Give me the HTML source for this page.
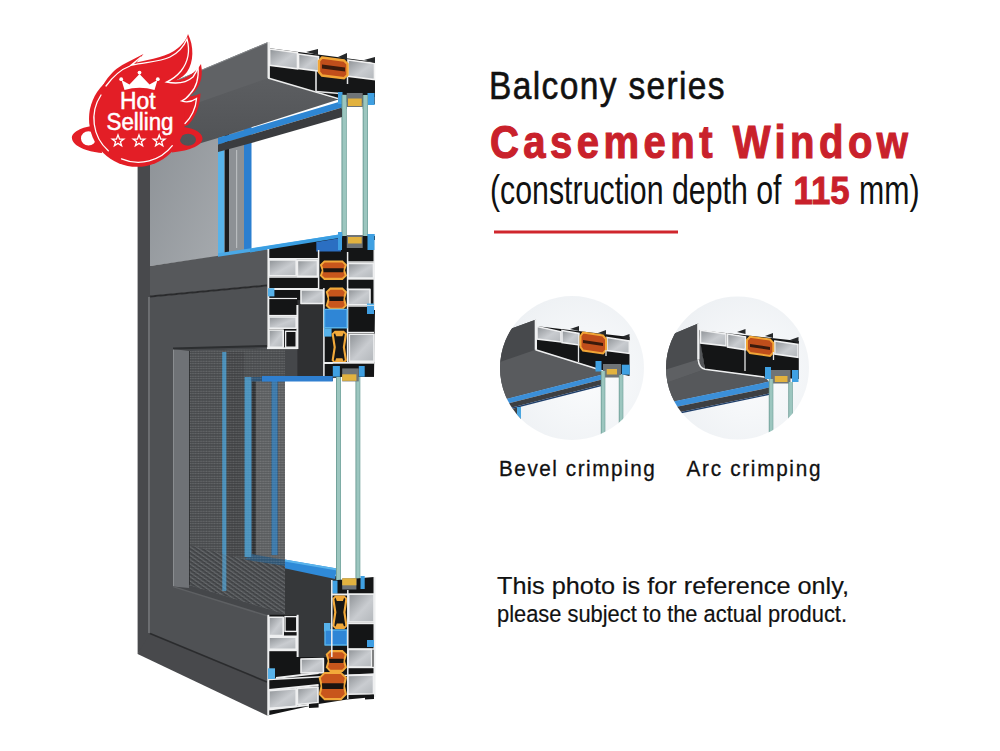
<!DOCTYPE html>
<html><head><meta charset="utf-8">
<style>
html,body{margin:0;padding:0;background:#fff;}
body{width:1000px;height:751px;overflow:hidden;position:relative;}
svg{position:absolute;left:0;top:0;}
text{font-family:"Liberation Sans",sans-serif;}
</style></head>
<body>
<svg width="1000" height="751" viewBox="0 0 1000 751">
<defs>
  <linearGradient id="gPanel" x1="0" y1="0" x2="1" y2="1">
    <stop offset="0" stop-color="#8a8f94"/><stop offset="1" stop-color="#a6aaae"/>
  </linearGradient>
  <linearGradient id="gHeadLow" x1="0" y1="0" x2="0" y2="1">
    <stop offset="0" stop-color="#5c5e61"/><stop offset="1" stop-color="#4e5053"/>
  </linearGradient>
  <linearGradient id="gCham" x1="0" y1="0" x2="1" y2="1">
    <stop offset="0" stop-color="#8e9296"/><stop offset="0.55" stop-color="#c9ccd0"/><stop offset="1" stop-color="#b3b7bb"/>
  </linearGradient>
  <linearGradient id="gGlass" x1="0" y1="0" x2="1" y2="0">
    <stop offset="0" stop-color="#5f918a"/><stop offset="0.3" stop-color="#9cc6bf"/><stop offset="0.75" stop-color="#9cc6bf"/><stop offset="1" stop-color="#6a9c95"/>
  </linearGradient>
  <pattern id="mesh" width="2.7" height="2.5" patternUnits="userSpaceOnUse">
    <rect width="2.7" height="2.5" fill="#15171a" fill-opacity="0.55"/>
    <rect x="0.3" y="0.6" width="2" height="1.2" fill="#ffffff" fill-opacity="0.22"/>
  </pattern>
  <pattern id="meshD" width="3.5" height="3.5" patternUnits="userSpaceOnUse" patternTransform="rotate(-55)">
    <rect width="3.5" height="3.5" fill="#3a3c3f"/>
    <rect width="1.3" height="3.5" fill="#707376"/>
  </pattern>
  <clipPath id="c1"><circle cx="572" cy="368" r="72"/></clipPath>
  <clipPath id="c2"><circle cx="737.5" cy="368" r="71.5"/></clipPath>
</defs>
<!-- ===== WINDOW ===== -->
<g id="window">
  <!-- upper reveal panel -->
  <polygon points="150,100 222,90 222,256 150,266" fill="url(#gPanel)"/>
  <!-- upper opening strips -->
  <rect x="218" y="120" width="6.5" height="140" fill="#57b3ea"/>
  <rect x="224.5" y="120" width="4.5" height="140" fill="#1b1c1e"/>
  <rect x="229" y="120" width="15" height="140" fill="#8d9195"/>
  <rect x="236" y="150" width="1.2" height="98" fill="#b9bcbf"/>
  <rect x="244" y="120" width="7.5" height="140" fill="#2b7fd0"/>
  <!-- upper glass panes -->
  <rect x="341.5" y="95" width="5.3" height="153" fill="url(#gGlass)"/>
  <rect x="362.7" y="95" width="5.3" height="153" fill="url(#gGlass)"/>
  <rect x="346.8" y="92" width="15.9" height="15" fill="#6f7477"/>
  <rect x="348" y="98.5" width="13.7" height="7.5" fill="#e2b23f"/>
  <rect x="346.8" y="235" width="15.9" height="13" fill="#6f7477"/>
  <rect x="348" y="237" width="13.7" height="6.5" fill="#e2b23f"/>
  <rect x="338" y="90" width="4" height="14" fill="#3fa0e2"/>
  <rect x="367.5" y="92" width="7" height="13" fill="#3fa0e2"/>
  <rect x="338" y="232" width="4" height="15" fill="#3fa0e2"/>
  <rect x="367.5" y="234" width="7" height="14" fill="#3fa0e2"/>
  <!-- head box top face -->
  <polygon points="137,97 268,42 268,80 137,127" fill="#606265"/>
  <line x1="160" y1="87.5" x2="268" y2="42.5" stroke="#85888b" stroke-width="1"/>
  <!-- head box lower face -->
  <polygon points="137,124 268,78 340,99 218,138 137,162" fill="url(#gHeadLow)"/>
  <!-- blue band + dark band under head -->
  <polygon points="218,138 342,101 342,107.5 218,144.5" fill="#2e86d3"/>
  <polygon points="218,144.5 342,107.5 342,117 251.5,143 218,152" fill="#3a3c3f"/>
  <!-- head cross-section -->
  <polygon points="268,48 375,62 375,104 342,101 268,78" fill="#151617"/>
  <rect x="267.5" y="42" width="2.4" height="36" fill="#eceded"/>
  <line x1="268" y1="78" x2="341" y2="99.5" stroke="#eceded" stroke-width="1.8"/>
  <polygon points="269.6,49 297.5,52.8 297.5,68.8 269.6,65.4" fill="url(#gCham)" stroke="#f2f2f2" stroke-width="1.6"/>
  <polygon points="298.5,54 318.5,56.8 318.5,71 298.5,68.6" fill="url(#gCham)" stroke="#f2f2f2" stroke-width="1.6"/>
  <polygon points="348,60 374.5,63.5 374.5,79.5 348,76.2" fill="url(#gCham)" stroke="#f2f2f2" stroke-width="1.6"/>
  <polygon points="306,52 318,49 318,55" fill="#26282a"/>
  <polygon points="338,57 347,53 347,60" fill="#26282a"/>
  <polygon points="364,60 375,57 375,63" fill="#26282a"/>
  <polygon points="322,57.5 344,60.5 347.5,64 347.5,75 344,78.3 322,75.5 319,72 319,61" fill="#c04e1b" stroke="#f2a536" stroke-width="2.4"/>
  <polygon points="322,64.5 345,67.5 345,71.5 322,68.5" fill="#3a1a0c"/>
  <line x1="316" y1="71" x2="316" y2="91.5" stroke="#e5e6e7" stroke-width="1.6"/>
  <line x1="347.5" y1="77" x2="347.5" y2="84" stroke="#e5e6e7" stroke-width="1.5"/>
  <line x1="316" y1="91.5" x2="340" y2="93.5" stroke="#e5e6e7" stroke-width="1.4"/>
  <polygon points="340,94 375,97 375,104 342,102" fill="#4b4e51"/>
  <rect x="338" y="92" width="4.5" height="12" fill="#3fa0e2"/>
  <rect x="367.5" y="93" width="7" height="12" fill="#3fa0e2"/>
  <rect x="346.8" y="93" width="15.9" height="14" fill="#6f7477"/>
  <rect x="348" y="98.5" width="13.7" height="7.5" fill="#e2b23f"/>
  <rect x="341.5" y="95" width="5.3" height="14" fill="url(#gGlass)"/>
  <rect x="362.7" y="95" width="5.3" height="14" fill="url(#gGlass)"/>

  <!-- left jamb front face -->
  <polygon points="137.6,120 150,118 150,640 137.6,654" fill="#48494c"/>

  <!-- transom face -->
  <polygon points="150,266 267,248.5 267,285 150,296" fill="#56585b"/>
  <polygon points="218,253.3 342.2,234 342.2,237.5 218,256.8" fill="#4aa8e6"/>
  <!-- lower sash front face -->
  <polygon points="150,297 267,286 267,682 150,633.5" fill="#4f5154"/>
  <line x1="150" y1="296.5" x2="267" y2="285.5" stroke="#2a2b2d" stroke-width="2"/>
  <line x1="149" y1="297" x2="149" y2="633" stroke="#85878a" stroke-width="1.2"/>
  <!-- frame bottom rail face -->
  <polygon points="137.6,654 150,633.5 267,682 267,715.4" fill="#48494c"/>
  <line x1="150" y1="633.5" x2="267" y2="682" stroke="#2a2b2d" stroke-width="1.6"/>

  <!-- lower opening : dark backing right of mesh -->
  <polygon points="173,349 336,344 336,660 267,616 173,586.4" fill="#45474a"/>
  <!-- white glass area -->
  <polygon points="285,380 336,378 336,576 285,566" fill="#ffffff"/>
  <!-- blue band bottom of glass opening -->
  <polygon points="285,566 336,577 336,657 297.4,657 297.4,614.8 285,614" fill="#36383a"/>
  <polygon points="251.8,554 337,568.5 335,579 244.3,559.6" fill="#2f8ad8"/>
  <polygon points="251.8,554 337,568.5 337,570.5 251.8,556" fill="#5ab4ec"/>
  <!-- left reveal -->
  <polygon points="173,349 189,351 189,588 173,586.4" fill="#6f7276"/>
  <line x1="173.5" y1="349" x2="173.5" y2="586" stroke="#8a8d90" stroke-width="1"/>
  <!-- mesh -->
  <polygon points="189,351 285,348 285,614 189,585" fill="#7a7d80"/>
  <polygon points="251.8,381 285,381 285,566 251.8,556" fill="#a3a6a9"/>
  <rect x="222" y="352" width="4.6" height="239" fill="#4a9ed6"/>
  <rect x="226.6" y="352" width="17.7" height="205" fill="#6a6b6e"/>
  <rect x="244.3" y="377" width="7.5" height="180" fill="#4aa6de"/>
  <rect x="271.3" y="381" width="6.6" height="174" fill="#3a8ad0"/>
  <rect x="251.8" y="381" width="4" height="176" fill="#3a3c3f"/>
  <polygon points="244.3,377 285,377 285,381.5 251.8,381.5" fill="#3a8ad0"/>
  <polygon points="251.8,554 285,560 285,566 244.3,559.6" fill="#3f94d8"/>
  <polygon points="189,351 285,348 285,614 189,585" fill="url(#mesh)"/>
  <polygon points="189,545 244.3,559.6 285,566 285,614 189,585" fill="url(#meshD)" opacity="0.6"/>
  <rect x="222.3" y="352" width="4" height="239" fill="#5ab0e4" opacity="0.6"/>
  <rect x="244.8" y="377" width="6.5" height="180" fill="#5ab4ea" opacity="0.6"/>
  <rect x="271.8" y="381" width="5.6" height="174" fill="#4a9ee0" opacity="0.5"/>
  <!-- top reveal line -->
  <line x1="173" y1="348.5" x2="267" y2="346" stroke="#2c2e30" stroke-width="2"/>
  <line x1="189.5" y1="351" x2="189.5" y2="585" stroke="#2a2c2e" stroke-width="1" opacity="0.8"/>
  <!-- lower rail top edge -->
  <line x1="173" y1="586.6" x2="267" y2="615.8" stroke="#5e6063" stroke-width="1.5"/>

  <!-- lower glass panes -->
  <rect x="336" y="370" width="5" height="215" fill="url(#gGlass)"/>
  <rect x="355.5" y="370" width="4.8" height="215" fill="url(#gGlass)"/>
<!-- transom cross-section -->
<polygon points="267.0,248.5 342.0,236.0 375.0,236.0 375.0,310.0 374.0,376.7 332.8,376.7 332.8,381.0 324.0,381.0 324.0,305.0 297.4,305.0 297.4,349.0 267.0,349.0" fill="#141516"/>
<polygon points="297.4,300.0 324.5,300.0 324.5,377.0 297.4,377.0" fill="#2f3032"/>
<polygon points="250.0,249.0 342.2,234.0 342.2,237.5 250.0,252.5" fill="#3a9ee2"/>
<rect x="267.3" y="249.0" width="2.0" height="100.0" fill="#eeeff0"/>
<polygon points="316.3,242.0 341.0,238.0 341.0,251.6 316.3,251.6" fill="#2b6fc2"/>
<line x1="269.0" y1="258.8" x2="318.0" y2="258.8" stroke="#eeeff0" stroke-width="1.8"/>
<polygon points="269.0,259.9 296.2,259.9 296.2,275.8 269.0,275.8" fill="url(#gCham)" stroke="#eeeff0" stroke-width="1.6" stroke-linejoin="round"/>
<polygon points="297.4,260.4 317.5,260.4 317.5,276.4 297.4,276.4" fill="url(#gCham)" stroke="#eeeff0" stroke-width="1.6" stroke-linejoin="round"/>
<polygon points="324.1,260.4 342.7,260.4 347.0,264.7 345.0,270.2 347.0,275.7 342.7,280.0 324.1,280.0 319.8,275.7 321.8,270.2 319.8,264.7" fill="#f2a93a"/>
<polygon points="324.6,262.6 342.2,262.6 344.8,265.2 342.8,270.2 344.8,275.2 342.2,277.8 324.6,277.8 322.0,275.2 324.0,270.2 322.0,265.2" fill="#c8561c"/>
<polygon points="323.0,268.2 343.8,268.2 343.3,272.2 323.5,272.2" fill="#1c1410"/>
<polygon points="348.0,263.4 373.5,263.4 373.5,278.1 348.0,278.1" fill="url(#gCham)" stroke="#eeeff0" stroke-width="1.6" stroke-linejoin="round"/>
<line x1="269.0" y1="289.0" x2="318.0" y2="289.0" stroke="#eeeff0" stroke-width="1.8"/>
<rect x="373.5" y="240.0" width="1.5" height="70.0" fill="#eeeff0"/>
<rect x="346.8" y="235.0" width="15.9" height="13.0" fill="#6f7477"/>
<rect x="348.0" y="237.0" width="13.7" height="6.5" fill="#e2b23f"/>
<rect x="338.0" y="232.0" width="4.0" height="18.0" fill="#3fa0e2"/>
<rect x="367.5" y="234.0" width="7.0" height="16.0" fill="#3fa0e2"/>
<line x1="318.6" y1="250.0" x2="318.6" y2="290.0" stroke="#eeeff0" stroke-width="1.5"/>
<line x1="347.6" y1="252.0" x2="347.6" y2="290.0" stroke="#eeeff0" stroke-width="1.5"/>
<line x1="348.0" y1="262.0" x2="374.0" y2="262.0" stroke="#eeeff0" stroke-width="1.4"/>
<line x1="269.0" y1="277.0" x2="318.0" y2="277.0" stroke="#eeeff0" stroke-width="1.5"/>
<line x1="348.0" y1="279.0" x2="374.0" y2="279.0" stroke="#eeeff0" stroke-width="1.4"/>
<rect x="268.0" y="288.2" width="6.4" height="8.2" fill="#57b2ea"/>
<polygon points="301.0,290.0 323.4,290.0 323.4,303.5 301.0,303.5" fill="url(#gCham)" stroke="#eeeff0" stroke-width="1.6" stroke-linejoin="round"/>
<polygon points="330.0,287.5 342.7,287.5 347.0,291.8 345.0,298.8 347.0,305.7 342.7,310.0 330.0,310.0 325.7,305.7 327.7,298.8 325.7,291.8" fill="#f2a93a"/>
<polygon points="330.5,289.7 342.2,289.7 344.8,292.3 342.8,298.8 344.8,305.2 342.2,307.8 330.5,307.8 327.9,305.2 329.9,298.8 327.9,292.3" fill="#c8561c"/>
<polygon points="328.9,296.5 343.8,296.5 343.3,301.0 329.4,301.0" fill="#1c1410"/>
<polygon points="348.0,289.4 370.0,289.4 370.0,304.7 348.0,304.7" fill="url(#gCham)" stroke="#eeeff0" stroke-width="1.6" stroke-linejoin="round"/>
<rect x="367.0" y="303.5" width="7.0" height="6.5" fill="#57b2ea"/>
<line x1="269.0" y1="315.8" x2="297.0" y2="315.8" stroke="#eeeff0" stroke-width="1.8"/>
<polygon points="269.0,317.0 296.2,317.0 296.2,328.3 269.0,328.3" fill="url(#gCham)" stroke="#eeeff0" stroke-width="1.6" stroke-linejoin="round"/>
<polygon points="269.0,330.0 283.2,330.0 283.2,347.2 269.0,347.2" fill="url(#gCham)" stroke="#eeeff0" stroke-width="1.6" stroke-linejoin="round"/>
<rect x="285.6" y="331.3" width="10.6" height="15.9" fill="#141516" stroke="#eeeff0" stroke-width="1.4"/>
<line x1="267.0" y1="348.2" x2="297.4" y2="348.2" stroke="#eeeff0" stroke-width="1.8"/>
<rect x="296.4" y="305.0" width="2.0" height="44.0" fill="#eeeff0"/>
<line x1="323.9" y1="288.0" x2="323.9" y2="377.0" stroke="#eeeff0" stroke-width="1.5"/>
<line x1="347.6" y1="288.0" x2="347.6" y2="364.0" stroke="#eeeff0" stroke-width="1.5"/>
<line x1="348.0" y1="306.0" x2="374.0" y2="306.0" stroke="#eeeff0" stroke-width="1.4"/>
<line x1="348.0" y1="332.5" x2="374.0" y2="332.5" stroke="#eeeff0" stroke-width="1.4"/>
<line x1="269.0" y1="298.5" x2="297.0" y2="298.5" stroke="#eeeff0" stroke-width="1.2"/>
<polygon points="324.5,309.4 347.0,309.4 347.0,327.7 324.5,327.7" fill="#2f86d6" stroke="#57b2ea" stroke-width="1.4" stroke-linejoin="round"/>
<rect x="324.0" y="328.3" width="7.6" height="8.3" fill="#57b2ea"/>
<polygon points="334.7,330.7 343.9,330.7 347.0,333.8 345.0,347.2 347.0,360.6 343.9,363.7 334.7,363.7 331.6,360.6 333.6,347.2 331.6,333.8" fill="#f2a93a"/>
<polygon points="335.2,332.9 343.4,332.9 344.8,334.3 342.8,347.2 344.8,360.1 343.4,361.5 335.2,361.5 333.8,360.1 335.8,347.2 333.8,334.3" fill="#161616"/>
<polygon points="334.7,332.4 343.9,332.4 342.4,336.2 336.2,336.2" fill="#f2a93a"/>
<polygon points="334.7,362.0 343.9,362.0 342.4,358.2 336.2,358.2" fill="#f2a93a"/>
<polygon points="349.3,334.2 374.0,334.2 374.0,361.4 349.3,361.4" fill="url(#gCham)" stroke="#eeeff0" stroke-width="1.6" stroke-linejoin="round"/>
<rect x="367.0" y="306.0" width="7.0" height="8.0" fill="#3f9ee2"/>
<line x1="324.0" y1="363.0" x2="374.0" y2="363.0" stroke="#eeeff0" stroke-width="1.8"/>
<rect x="332.8" y="363.7" width="41.2" height="13.0" fill="#141516"/>
<rect x="332.8" y="366.0" width="7.1" height="10.7" fill="#3fa0e2"/>
<rect x="358.8" y="366.0" width="5.9" height="10.7" fill="#3fa0e2"/>
<rect x="342.2" y="368.4" width="16.6" height="13.0" fill="#6f7477"/>
<rect x="342.2" y="374.3" width="14.2" height="6.5" fill="#e2b23f"/>
<polygon points="262.0,376.0 332.8,376.0 332.8,381.4 262.0,381.4" fill="#2f7fd0"/>
<!-- bottom cross-section -->
<polygon points="267.3,614.8 297.4,614.8 297.4,657.0 331.6,657.0 331.6,580.6 374.0,577.0 374.0,697.0 347.0,699.5 318.6,704.0 267.3,715.5" fill="#141516"/>
<rect x="267.3" y="614.8" width="2.0" height="100.7" fill="#eeeff0"/>
<rect x="373.5" y="577.0" width="2.0" height="120.0" fill="#eeeff0"/>
<rect x="332.2" y="580.6" width="5.3" height="13.0" fill="#3fa0e2"/>
<rect x="342.2" y="578.3" width="14.2" height="11.2" fill="#6f7477"/>
<rect x="342.2" y="578.3" width="14.2" height="7.0" fill="#e2b23f"/>
<rect x="360.5" y="576.0" width="4.2" height="13.0" fill="#3fa0e2"/>
<line x1="332.0" y1="594.5" x2="374.0" y2="594.5" stroke="#eeeff0" stroke-width="1.8"/>
<polygon points="335.3,595.4 344.4,595.4 347.5,598.5 345.5,612.2 347.5,625.9 344.4,629.0 335.3,629.0 332.2,625.9 334.2,612.2 332.2,598.5" fill="#f2a93a"/>
<polygon points="335.8,597.6 343.9,597.6 345.3,599.0 343.3,612.2 345.3,625.4 343.9,626.8 335.8,626.8 334.4,625.4 336.4,612.2 334.4,599.0" fill="#161616"/>
<polygon points="335.3,597.1 344.4,597.1 342.9,601.0 336.8,601.0" fill="#f2a93a"/>
<polygon points="335.3,627.3 344.4,627.3 342.9,623.4 336.8,623.4" fill="#f2a93a"/>
<polygon points="348.7,594.2 374.0,594.2 374.0,622.0 348.7,622.0" fill="url(#gCham)" stroke="#eeeff0" stroke-width="1.6" stroke-linejoin="round"/>
<line x1="348.0" y1="623.3" x2="374.0" y2="623.3" stroke="#eeeff0" stroke-width="1.8"/>
<rect x="324.0" y="623.0" width="6.4" height="8.4" fill="#57b2ea"/>
<polygon points="325.0,630.0 347.0,630.0 347.0,645.0 325.0,645.0" fill="#2f86d6" stroke="#57b2ea" stroke-width="1.4" stroke-linejoin="round"/>
<rect x="367.0" y="640.0" width="7.0" height="7.0" fill="#3f9ee2"/>
<polygon points="330.0,650.0 342.7,650.0 347.0,654.3 345.0,661.0 347.0,667.6 342.7,671.9 330.0,671.9 325.7,667.6 327.7,661.0 325.7,654.3" fill="#f2a93a"/>
<polygon points="330.5,652.2 342.2,652.2 344.8,654.8 342.8,661.0 344.8,667.1 342.2,669.7 330.5,669.7 327.9,667.1 329.9,661.0 327.9,654.8" fill="#c8561c"/>
<polygon points="328.9,658.8 343.8,658.8 343.3,663.1 329.4,663.1" fill="#1c1410"/>
<polygon points="348.0,649.4 371.7,649.4 371.7,667.0 348.0,667.0" fill="url(#gCham)" stroke="#eeeff0" stroke-width="1.6" stroke-linejoin="round"/>
<line x1="331.8" y1="580.0" x2="331.8" y2="657.0" stroke="#eeeff0" stroke-width="1.5"/>
<line x1="347.8" y1="590.0" x2="347.8" y2="699.0" stroke="#eeeff0" stroke-width="1.5"/>
<line x1="348.0" y1="649.0" x2="374.0" y2="649.0" stroke="#eeeff0" stroke-width="1.4"/>
<line x1="348.0" y1="667.5" x2="374.0" y2="667.5" stroke="#eeeff0" stroke-width="1.4"/>
<line x1="269.0" y1="679.5" x2="374.0" y2="674.0" stroke="#eeeff0" stroke-width="1.4"/>
<polygon points="269.0,617.2 283.2,617.2 283.2,635.5 269.0,635.5" fill="url(#gCham)" stroke="#eeeff0" stroke-width="1.6" stroke-linejoin="round"/>
<rect x="285.0" y="616.6" width="11.8" height="14.8" fill="#141516" stroke="#eeeff0" stroke-width="1.4"/>
<line x1="269.0" y1="636.4" x2="297.0" y2="636.4" stroke="#eeeff0" stroke-width="1.8"/>
<polygon points="269.0,637.3 296.2,637.3 296.2,649.4 269.0,649.4" fill="url(#gCham)" stroke="#eeeff0" stroke-width="1.6" stroke-linejoin="round"/>
<line x1="269.0" y1="650.3" x2="297.0" y2="650.3" stroke="#eeeff0" stroke-width="1.8"/>
<rect x="296.6" y="614.8" width="2.0" height="42.2" fill="#eeeff0"/>
<rect x="268.0" y="668.3" width="7.0" height="10.7" fill="#57b2ea"/>
<polygon points="301.0,659.0 323.4,658.6 323.4,672.6 301.0,673.0" fill="url(#gCham)" stroke="#eeeff0" stroke-width="1.6" stroke-linejoin="round"/>
<line x1="276.0" y1="678.0" x2="318.6" y2="673.0" stroke="#eeeff0" stroke-width="1.8"/>
<line x1="269.0" y1="690.0" x2="318.6" y2="685.0" stroke="#eeeff0" stroke-width="1.8"/>
<polygon points="269.0,690.7 296.2,688.8 296.2,706.5 269.0,708.4" fill="url(#gCham)" stroke="#eeeff0" stroke-width="1.6" stroke-linejoin="round"/>
<polygon points="297.4,688.4 318.0,687.0 318.0,702.5 297.4,704.5" fill="url(#gCham)" stroke="#eeeff0" stroke-width="1.6" stroke-linejoin="round"/>
<polygon points="324.3,671.9 341.3,671.9 347.0,677.6 345.0,686.0 347.0,694.5 341.3,700.2 324.3,700.2 318.6,694.5 320.6,686.0 318.6,677.6" fill="#f2a93a"/>
<polygon points="324.8,674.1 340.8,674.1 344.8,678.1 342.8,686.0 344.8,694.0 340.8,698.0 324.8,698.0 320.8,694.0 322.8,686.0 320.8,678.1" fill="#c8561c"/>
<polygon points="321.8,683.2 343.8,683.2 343.3,688.9 322.3,688.9" fill="#1c1410"/>
<polygon points="348.0,675.4 373.5,674.9 373.5,693.8 348.0,694.3" fill="url(#gCham)" stroke="#eeeff0" stroke-width="1.6" stroke-linejoin="round"/>
<line x1="269.0" y1="709.6" x2="318.6" y2="703.7" stroke="#eeeff0" stroke-width="2"/>
<polygon points="309.0,704.0 318.6,703.0 318.6,707.5 309.0,708.0" fill="#141516"/>
<polygon points="365.0,695.5 374.0,694.5 374.0,699.0 365.0,699.5" fill="#141516"/>
</g>
<!-- ===== CIRCLES ===== -->
<defs>
  <radialGradient id="gDisc" cx="0.6" cy="0.55" r="0.6">
    <stop offset="0" stop-color="#fbfcfd"/><stop offset="1" stop-color="#eef1f4"/>
  </radialGradient>
</defs>
<g id="circle1">
  <circle cx="572" cy="368" r="72" fill="url(#gDisc)"/>
  <g clip-path="url(#c1)">
    <polygon points="480,340 535.5,319.8 535.5,349.8 600,370 603,374.2 480,405.7" fill="#515356"/>
    <!-- top face -->
    <polygon points="480,340 535.5,319.8 535.5,350.5 480,369.7" fill="#47494c"/>
    <!-- bevel face -->
    <polygon points="480,369 535.5,349.8 600,370 603,374.2 480,405.7" fill="#595b5e"/>
    <!-- blue band + dark band -->
    <polygon points="480,405.7 603,374.2 603,379.2 480,410.7" fill="#3b8fd8"/>
    <polygon points="480,410.7 603,379.2 603,384.2 480,415.7" fill="#3d3f42"/>
    <polygon points="480,415.7 603,384.2 603,385.7 480,417.2" fill="#1f3f6a"/>
    <polygon points="512,409 521,406.5 521,422 512,424" fill="#3d3f42"/>
    <rect x="517" y="407" width="4" height="14" fill="#4aa6e0"/>
    <!-- section -->
    <polygon points="535.5,326 629.5,337 629.5,376 598.5,369.3 535.5,349.8" fill="#141516"/>
    <rect x="534.7" y="319.8" width="2.3" height="30" fill="#eeeff0"/>
    <line x1="535.5" y1="349.8" x2="599" y2="369.5" stroke="#eeeff0" stroke-width="1.6"/>
    <polygon points="537,326.5 561,331.8 561,342 537,339" fill="url(#gCham)" stroke="#f0f1f2" stroke-width="1.5"/>
    <polygon points="562,330.5 579,333.5 579,345 562,342.5" fill="url(#gCham)" stroke="#f0f1f2" stroke-width="1.5"/>
    <polygon points="607,337.5 629.3,341 629.3,353.5 607,350.5" fill="url(#gCham)" stroke="#f0f1f2" stroke-width="1.5"/>
    <polygon points="570,329 579,326 579,331" fill="#26282a"/>
    <polygon points="598,333 606,330 606,335" fill="#26282a"/>
    <polygon points="621,337 629.5,334 629.5,340" fill="#26282a"/>
    <polygon points="583,332.5 603,335.5 606,339 606,350 603,353.5 583,350.5 580.5,347 580.5,336" fill="#c04e1b" stroke="#f2a536" stroke-width="2"/>
    <polygon points="583,340 603,343 603,346 583,343" fill="#3a1a0c"/>
    <line x1="578.5" y1="344" x2="578.5" y2="362" stroke="#e5e6e7" stroke-width="1.3"/>
    <line x1="606" y1="350" x2="606" y2="356" stroke="#e5e6e7" stroke-width="1.3"/>
    <rect x="603" y="364" width="18" height="13.5" fill="#6f7477"/>
    <rect x="606.7" y="369" width="10.3" height="5.5" fill="#e2b23f"/>
    <rect x="595.5" y="361" width="6" height="10.5" fill="#3fa0e2"/>
    <rect x="621.8" y="364.7" width="8" height="10" fill="#3fa0e2"/>
    <rect x="600.8" y="371" width="4.5" height="80" fill="url(#gGlass)"/>
    <rect x="618.8" y="375" width="4.5" height="80" fill="url(#gGlass)"/>
  </g>
</g>
<g id="circle2">
  <circle cx="737.5" cy="368" r="71.5" fill="url(#gDisc)"/>
  <g clip-path="url(#c2)">
    <polygon points="645,346 698.2,323.5 705,369.3 769,381.6 645,407.5" fill="#535558"/>
    <!-- top face -->
    <polygon points="645,346 698.2,323.5 698.2,360.2 645,376.7" fill="#4a4c4f"/>
    <!-- curved band -->
    <path d="M 645,376 L 698.2,359.5 Q 699,368 705,369.3 L 645,390.7 Z" fill="#5e6063"/>
    <!-- lower face -->
    <polygon points="645,390 705,369.3 765,377.5 769,381.6 645,407.5" fill="#56585b"/>
    <polygon points="645,407.5 769,381.6 769,387.6 645,413.5" fill="#3b8fd8"/>
    <polygon points="645,413.5 769,387.6 769,393.6 645,419.5" fill="#3d3f42"/>
    <polygon points="645,419.5 769,393.6 769,395 645,421" fill="#1f3f6a"/>
    <!-- section -->
    <polygon points="698.2,330 798.8,341 798.8,379 763.5,376.8 705,369.3 Q 699,368 698.2,359.5" fill="#141516"/>
    <rect x="697.2" y="323.5" width="2.3" height="36" fill="#eeeff0"/>
    <path d="M 698.2,359.5 Q 699,368 705,369.3 L 764,377" fill="none" stroke="#eeeff0" stroke-width="1.6"/>
    <polygon points="700.5,330.3 726,334 726,345.8 700.5,343" fill="url(#gCham)" stroke="#f0f1f2" stroke-width="1.5"/>
    <polygon points="727.5,334 745.5,336.8 745.5,349.8 727.5,347" fill="url(#gCham)" stroke="#f0f1f2" stroke-width="1.5"/>
    <polygon points="774.8,341 798,344.5 798,357.3 774.8,354" fill="url(#gCham)" stroke="#f0f1f2" stroke-width="1.5"/>
    <polygon points="737,332 745.5,329 745.5,334" fill="#26282a"/>
    <polygon points="765,336 773,333 773,338" fill="#26282a"/>
    <polygon points="790,340 798.5,337 798.5,343" fill="#26282a"/>
    <polygon points="750,336.8 770,339.5 773.3,343 773.3,352.5 770,356 750,353 747,349.5 747,340" fill="#c04e1b" stroke="#f2a536" stroke-width="2"/>
    <polygon points="750,344 770,347 770,350 750,347" fill="#3a1a0c"/>
    <line x1="745" y1="348" x2="745" y2="371" stroke="#e5e6e7" stroke-width="1.3"/>
    <line x1="773.5" y1="352" x2="773.5" y2="360" stroke="#e5e6e7" stroke-width="1.3"/>
    <rect x="771" y="370" width="19.5" height="13.5" fill="#6f7477"/>
    <rect x="774.8" y="376" width="12.7" height="6" fill="#e2b23f"/>
    <rect x="765" y="367" width="6" height="12" fill="#3fa0e2"/>
    <rect x="792" y="370" width="6.5" height="12" fill="#3fa0e2"/>
    <rect x="768.8" y="379" width="4.5" height="80" fill="url(#gGlass)"/>
    <rect x="788.3" y="382" width="4.5" height="80" fill="url(#gGlass)"/>
  </g>
</g>
<!-- ===== BADGE ===== -->
<g id="badge">
  <!-- ring -->
  <path fill-rule="evenodd" fill="#e31e26" d="M 95,125.5 C 82,127 71,132 72,138.5 C 73,146 86,151.5 102,153 L 100,125 Z M 81,138.4 A 7.5,7.2 0 1,0 96,138.4 A 7.5,7.2 0 1,0 81,138.4 Z M 178,126.5 C 192,127 202.5,132 202.5,138.5 C 202.5,145 191,150.5 172,152.5 L 175,127 Z M 180,139.8 A 8,6 0 1,0 196,139.8 A 8,6 0 1,0 180,139.8 Z"/>
  <!-- flame -->
  <path d="M 98,96 C 106,76 116,68 126,63 L 143.5,54 C 140,58 138,60.5 136.5,62.5 C 151,59 168,57 178,48 C 184,43 187,38 188,34 C 194,46 194,62 187,72 C 183,77 179,79 175.5,80.5 C 187,79 196,72 201,64 C 204,78 199,90 189,96.5 C 194,96 197,95 200.5,93.5 C 200,107 195,118 188,125 L 150,140 Z" fill="#e31e26"/>
  <circle cx="137" cy="118.8" r="48" fill="#e31e26"/>
  <!-- inner white outlines -->
  <g fill="none" stroke="#ffffff" stroke-width="1.3" stroke-linecap="round">
    <path d="M 101,95 A 43,43 0 0,0 108.3,150.8"/>
    <path d="M 121.5,158.8 A 43,43 0 0,0 172.3,145.7"/>
    <path d="M 106,86 C 114,75 122,69 130,66 L 141,57 C 136,61 134,63 132,65 C 145,62 160,62 170,57 C 178,53 184,46 187,39 C 190,50 188,62 181,71 C 176,77 171,80 166.5,82 C 176,84 186,83 193,77 C 196,73 197.5,69 198,66 C 199,78 196,88 190,94 C 187,98 184,100 181.5,101 C 188,103 193,101 196.5,98.5 C 196,108 191,118 185,123.5"/>
  </g>
  <!-- crown -->
  <path d="M 124.5,90 Q 139.5,85.5 154.5,90 L 157.5,80 L 149.5,84.5 L 139.5,74 L 129.5,84.5 L 121.5,80 Z" fill="#ffffff"/>
  <circle cx="121.2" cy="79.2" r="1.9" fill="#fff"/>
  <circle cx="139.5" cy="72.6" r="1.9" fill="#fff"/>
  <circle cx="157.8" cy="79.2" r="1.9" fill="#fff"/>
  <!-- text -->
  <text x="120" y="109.3" font-size="23" textLength="35.5" lengthAdjust="spacingAndGlyphs" fill="#fff" stroke="#fff" stroke-width="0.5">Hot</text>
  <text x="106.5" y="130" font-size="23.5" textLength="67" lengthAdjust="spacingAndGlyphs" fill="#fff" stroke="#fff" stroke-width="0.5">Selling</text>
  <!-- stars -->
  <g fill="none" stroke="#fff" stroke-width="1.3" stroke-linejoin="miter">
    <path id="st" d="M 118,134.9 L 119.5,139 L 123.8,139.1 L 120.4,141.7 L 121.6,145.8 L 118,143.4 L 114.4,145.8 L 115.6,141.7 L 112.2,139.1 L 116.5,139 Z"/>
    <path d="M 139,134.9 L 140.5,139 L 144.8,139.1 L 141.4,141.7 L 142.6,145.8 L 139,143.4 L 135.4,145.8 L 136.6,141.7 L 133.2,139.1 L 137.5,139 Z"/>
    <path d="M 159.2,134.9 L 160.7,139 L 165,139.1 L 161.6,141.7 L 162.8,145.8 L 159.2,143.4 L 155.6,145.8 L 156.8,141.7 L 153.4,139.1 L 157.7,139 Z"/>
  </g>
</g>
<!-- ===== TEXT ===== -->
<text transform="translate(489,98.6) scale(0.86,1)" font-size="39" textLength="274" lengthAdjust="spacing" fill="#111" stroke="#111" stroke-width="0.6">Balcony series</text>
<text transform="translate(490,157.5) scale(0.88,1)" font-size="45.5" font-weight="bold" textLength="475" lengthAdjust="spacing" fill="#c9212b" stroke="#c9212b" stroke-width="1.1">Casement Window</text>
<text x="490" y="204" font-size="40" textLength="291.5" lengthAdjust="spacingAndGlyphs" fill="#111">(construction depth of</text>
<text x="793.5" y="204.3" font-size="38.5" font-weight="bold" textLength="56" lengthAdjust="spacingAndGlyphs" fill="#c9212b" stroke="#c9212b" stroke-width="0.9">115</text>
<text x="859" y="204" font-size="40" textLength="60.5" lengthAdjust="spacingAndGlyphs" fill="#111">mm)</text>
<rect x="494" y="230.5" width="184" height="3" fill="#d0262d"/>

<text transform="translate(499,476.3) scale(0.95,1)" font-size="21.8" textLength="164" lengthAdjust="spacing" fill="#111" stroke="#111" stroke-width="0.3">Bevel crimping</text>
<text transform="translate(686.5,476.3) scale(0.95,1)" font-size="21.8" textLength="141" lengthAdjust="spacing" fill="#111" stroke="#111" stroke-width="0.3">Arc crimping</text>
<text x="497" y="594" font-size="24.5" textLength="352" lengthAdjust="spacingAndGlyphs" fill="#111" stroke="#111" stroke-width="0.2">This photo is for reference only,</text>
<text x="497" y="622" font-size="24.5" textLength="350" lengthAdjust="spacingAndGlyphs" fill="#111" stroke="#111" stroke-width="0.2">please subject to the actual product.</text>
</svg>
</body></html>
